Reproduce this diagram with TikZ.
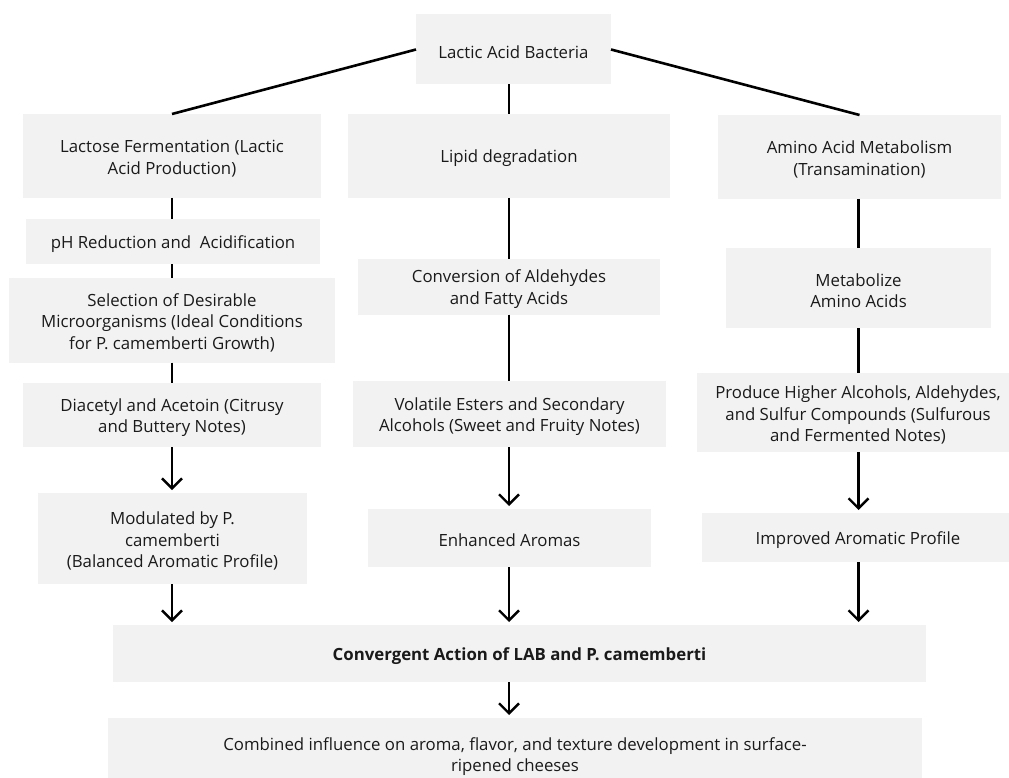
\documentclass[tikz,border=0pt]{standalone}
\usepackage{fontspec}
\setmainfont{Open Sans}
\usetikzlibrary{arrows.meta}
\definecolor{boxfill}{HTML}{F2F2F2}
\definecolor{ink}{HTML}{1A1A1A}
\tikzset{
  box/.style={fill=boxfill, draw=none, inner sep=0pt, outer sep=0pt},
  lbl/.style={text=ink, align=center, inner sep=0pt, yshift=-2.5pt,
              font=\fontsize{16.8}{21.5}\selectfont},
  txt/.style={label={[lbl]center:{#1}}},
  boldtxt/.style={label={[lbl, font=\fontsize{16.8}{21.5}\selectfont\bfseries]center:{#1}}},
  link/.style={line width=2.6pt, black},
  flow/.style={link, -{Straight Barb[length=10pt,width=20pt,line width=2.4pt]}, shorten >=3pt},
}
\begin{document}
\begin{tikzpicture}[x=1pt,y=-1pt]
  \useasboundingbox (0,0) rectangle (1009,778);
  \clip (0,0) rectangle (1009,778);
  % root
  \node[box, minimum width=195pt, minimum height=70pt, txt={Lactic Acid Bacteria}] (top) at (513.5,49.5) {};
  % left column: lactose
  \node[box, minimum width=298pt, minimum height=84pt, txt={Lactose Fermentation (Lactic\\Acid Production)}] (lact) at (172,156) {};
  \node[box, minimum width=294pt, minimum height=45pt, txt={pH Reduction and\ \ Acidification}] (ph) at (173,241.5) {};
  \node[box, minimum width=326pt, minimum height=85pt, txt={Selection of Desirable\\Microorganisms (Ideal Conditions\\for P. camemberti Growth)}] (sel) at (172,320) {};
  \node[box, minimum width=298pt, minimum height=64pt, txt={Diacetyl and Acetoin (Citrusy\\and Buttery Notes)}] (dia) at (172,415) {};
  \node[box, minimum width=269pt, minimum height=91pt, txt={Modulated by P.\\camemberti\\(Balanced Aromatic Profile)}] (mod) at (172.5,538.5) {};
  % middle column: lipids
  \node[box, minimum width=322pt, minimum height=84pt, txt={Lipid degradation}] (lipid) at (509,156) {};
  \node[box, minimum width=302pt, minimum height=56pt, txt={Conversion of Aldehydes\\and Fatty Acids}] (conv) at (509,286.5) {};
  \node[box, minimum width=313pt, minimum height=66pt, txt={Volatile Esters and Secondary\\Alcohols (Sweet and Fruity Notes)}] (vol) at (509.5,414) {};
  \node[box, minimum width=283pt, minimum height=58pt, txt={Enhanced Aromas}] (enh) at (509.5,538) {};
  % right column: amino acids
  \node[box, minimum width=283pt, minimum height=84pt, txt={Amino Acid Metabolism\\(Transamination)}] (amino) at (859.5,157) {};
  \node[box, minimum width=265pt, minimum height=80pt, txt={Metabolize\\Amino Acids}] (metab) at (858.5,288) {};
  \node[box, minimum width=322pt, minimum height=79pt, txt={Produce Higher Alcohols, Aldehydes,\\and Sulfur Compounds (Sulfurous\\and Fermented Notes)}] (prod) at (858,412.5) {};
  \node[box, minimum width=312pt, minimum height=49pt, txt={Improved Aromatic Profile}] (impr) at (858,537.5) {};
  % convergence
  \node[box, minimum width=813pt, minimum height=57pt, boldtxt={Convergent Action of LAB and P. camemberti}] (conver) at (519.5,653.5) {};
  \node[box, minimum width=814pt, minimum height=72pt, txt={Combined influence on aroma, flavor, and texture development in surface-\\ripened cheeses}] (comb) at (515,754) {};
  % branches from the root
  \draw[link] (top.west) -- (lact.north);
  \draw[link] (top.east) -- (amino.north);
  \draw[link] (top.south -| lipid.north) -- (lipid.north);
  % left chain
  \draw[link] (lact.south) -- (ph.north -| lact.south);
  \draw[link] (ph.south -| lact.south) -- (sel.north);
  \draw[link] (sel.south) -- (dia.north);
  \draw[flow] (dia.south) -- (mod.north -| dia.south);
  \draw[flow] (mod.south -| dia.south) -- (conver.north -| dia.south);
  % middle chain
  \draw[link] (lipid.south) -- (conv.north);
  \draw[link] (conv.south) -- (vol.north -| conv.south);
  \draw[flow] (vol.south -| conv.south) -- (enh.north -| conv.south);
  \draw[flow] (enh.south -| conv.south) -- (conver.north -| conv.south);
  % right chain
  \draw[link] (amino.south -| metab.north) -- (metab.north);
  \draw[link] (metab.south) -- (prod.north -| metab.south);
  \draw[flow] (prod.south -| metab.south) -- (impr.north -| metab.south);
  \draw[flow] (impr.south -| metab.south) -- (conver.north -| metab.south);
  % final step
  \draw[flow] (conver.south -| lipid.south) -- (comb.north -| lipid.south);
\end{tikzpicture}
\end{document}
